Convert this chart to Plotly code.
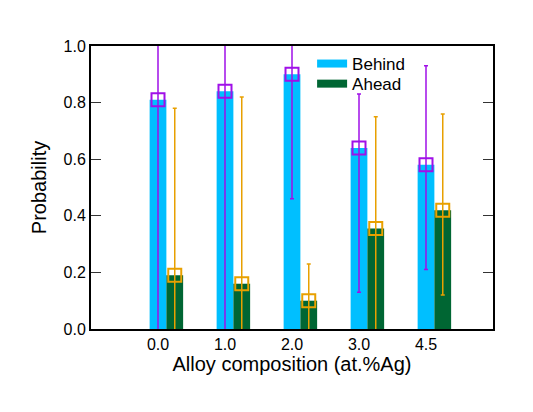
import plotly.graph_objects as go

# data
compositions = ['0.0', '1.0', '2.0', '3.0', '4.5']
behind = [0.81, 0.84, 0.90, 0.64, 0.58]
ahead = [0.19, 0.16, 0.10, 0.355, 0.42]
behind_hi = [1.10, 1.10, 1.10, 0.83, 0.93]
behind_lo = [-0.05, -0.05, 0.46, 0.13, 0.21]
ahead_hi = [0.78, 0.82, 0.23, 0.75, 0.76]
ahead_lo = [-0.05, -0.05, -0.05, -0.05, 0.12]

pos = list(range(len(compositions)))
pos_ahead = [p + 0.25 for p in pos]

sky = '#00BFFF'
green = '#006633'
purple = '#A010E8'
orange = '#E8A000'

fig = go.Figure()
fig.add_trace(go.Bar(x=pos, y=behind, width=0.25, showlegend=False,
                     marker=dict(color=sky, line_width=0)))
fig.add_trace(go.Bar(x=pos_ahead, y=ahead, width=0.25, showlegend=False,
                     marker=dict(color=green, line_width=0)))

# error bars with open square markers
fig.add_trace(go.Scatter(
    x=pos, y=behind, mode='markers', showlegend=False,
    marker=dict(symbol='square-open', size=13, color=purple, line_width=2),
    error_y=dict(type='data', symmetric=False,
                 array=[h - v for h, v in zip(behind_hi, behind)],
                 arrayminus=[v - l for l, v in zip(behind_lo, behind)],
                 color=purple, thickness=1.5, width=2)))
fig.add_trace(go.Scatter(
    x=pos_ahead, y=ahead, mode='markers', showlegend=False,
    marker=dict(symbol='square-open', size=13, color=orange, line_width=2),
    error_y=dict(type='data', symmetric=False,
                 array=[h - v for h, v in zip(ahead_hi, ahead)],
                 arrayminus=[v - l for l, v in zip(ahead_lo, ahead)],
                 color=orange, thickness=1.5, width=2)))

# legend entries drawn as wide swatches, one legend each so the rows sit tight
fig.add_trace(go.Scatter(x=[None], y=[None], mode='lines', name='Behind',
                         line=dict(color=sky, width=8), legend='legend'))
fig.add_trace(go.Scatter(x=[None], y=[None], mode='lines', name='Ahead',
                         line=dict(color=green, width=8), legend='legend2'))

fig.update_xaxes(range=[-1, 5], tickvals=pos, ticktext=compositions,
                 showline=True, linecolor='black', linewidth=2, mirror=True,
                 ticks='', showgrid=False, zeroline=False,
                 title_text='Alloy composition (at.%Ag)', title_standoff=2,
                 title_font_size=20, tickfont_size=16)
fig.update_yaxes(range=[0, 1], dtick=0.2, tickformat='.1f',
                 showline=True, linecolor='black', linewidth=2, mirror='ticks',
                 ticks='inside', ticklen=10, tickwidth=1, tickcolor='#333',
                 showgrid=False, zeroline=False,
                 title_text='Probability', title_standoff=12,
                 title_font_size=20, tickfont_size=16)
leg = dict(x=0.55, xanchor='left', yanchor='top', bgcolor='rgba(0,0,0,0)',
           font_size=17, itemwidth=30)
fig.update_layout(
    width=533, height=412, plot_bgcolor='white', paper_bgcolor='white',
    margin=dict(l=83, r=48, t=38, b=91), barmode='overlay',
    font=dict(family='Liberation Sans, Arial', size=16, color='black'),
    legend=dict(leg, y=1.0), legend2=dict(leg, y=0.929))

fig.write_html('out.html')
